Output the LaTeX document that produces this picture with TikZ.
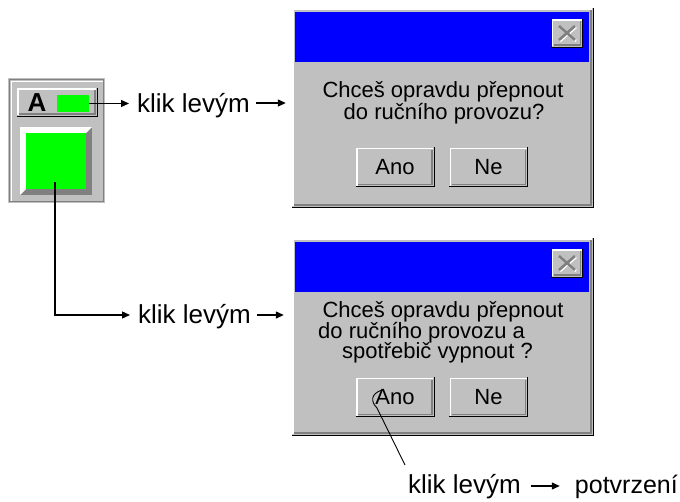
\documentclass[tikz,border=0pt]{standalone}
\usepackage{fontspec}
\setmainfont{Liberation Sans}
\usetikzlibrary{arrows.meta}

\definecolor{wgray}{HTML}{C0C0C0}
\definecolor{dgray}{HTML}{808080}
\definecolor{tblue}{HTML}{0000FF}
\definecolor{lgreen}{HTML}{00FF00}

\tikzset{
  flow/.style={-{Triangle[length=8pt,width=7pt]}, line width=1.3pt},
  lbl/.style={font=\fontsize{26}{26}\selectfont, inner sep=0pt, anchor=base west},
  msg/.style={font=\fontsize{22}{22}\selectfont, inner sep=0pt, anchor=base},
  btn/.style={fill=wgray, minimum width=78pt, minimum height=39pt, inner sep=0pt, font=\fontsize{22}{22}\selectfont},
  dialog/.style={fill=wgray, minimum width=301pt, minimum height=199pt, inner sep=0pt},
  closebtn/.style={fill=wgray, minimum width=31pt, minimum height=28pt, inner sep=0pt},
  lamp/.style={fill=lgreen, inner sep=0pt},
}

% raised 3d edge round a node
\newcommand{\bevel}[1]{%
  \draw[white, line width=1.4pt] ([shift={(1pt,1pt)}]#1.south west) |- ([shift={(-1pt,-1pt)}]#1.north east);
  \draw[dgray, line width=1.4pt] ([shift={(2.2pt,2.2pt)}]#1.south west) -| ([shift={(-2.2pt,-2.2pt)}]#1.north east);
  \draw[line width=1.2pt] (#1.south west) -| (#1.north east);
}
% greyed close cross
\newcommand{\closex}[1]{%
  \draw[white, line width=2.6pt] ([shift={(-7pt,6pt)}]#1.center) -- ([shift={(9pt,-8pt)}]#1.center)
    ([shift={(-7pt,-8pt)}]#1.center) -- ([shift={(9pt,6pt)}]#1.center);
  \draw[dgray, line width=2.6pt] ([shift={(-8pt,7pt)}]#1.center) -- ([shift={(8pt,-7pt)}]#1.center)
    ([shift={(-8pt,-7pt)}]#1.center) -- ([shift={(8pt,7pt)}]#1.center);
}

\begin{document}
\begin{tikzpicture}[x=1pt,y=-1pt]
\useasboundingbox (0,0) rectangle (680,501);

%% control panel
\fill[wgray] (8,78) rectangle (105,203);
\draw[dgray, line width=1.2pt] (9.5,79.5) rectangle (103.5,201.5);
\draw[white, line width=1pt] (11,201) |- (103,81);
\node[fill=wgray, minimum width=80pt, minimum height=28pt, inner sep=0pt] (modebtn) at (57,102) {};
\bevel{modebtn}
\node[font=\bfseries\fontsize{26}{26}\selectfont, inner sep=0pt] (mode) at (37,103) {A};
\node[lamp, minimum width=32pt, minimum height=17pt] (lamp) at (73,103.5) {};
% big push button
\fill[dgray] (20,127) rectangle (92,195);
\fill[white] (20,127) -- (92,127) -- (86,133) -- (26,133) -- (26,189) -- (20,195) -- cycle;
\node[lamp, minimum width=60pt, minimum height=56pt] (bigbtn) at (56,161) {};
\coordinate (tap) at (55,182);

%% first dialog
\node[dialog] (dlg1) at (442.5,107.5) {};
\bevel{dlg1}
\fill[tblue] (295,12) rectangle (589,62);
\node[closebtn] (close1) at (567,33) {};
\bevel{close1}
\closex{close1}
\node[msg] (q1a) at (443,97) {Chceš opravdu přepnout};
\node[msg] (q1b) at (444,119) {do ručního provozu?};
\node[btn] (ano1) at (395,167) {Ano};
\bevel{ano1}
\node[btn] (ne1) at (488.5,167) {Ne};
\bevel{ne1}

%% second dialog
\node[dialog, minimum height=197pt] (dlg2) at (442.5,336.5) {};
\bevel{dlg2}
\fill[tblue] (295,242) rectangle (589,292);
\node[closebtn] (close2) at (567,263) {};
\bevel{close2}
\closex{close2}
\node[msg] (q2a) at (443,317) {Chceš opravdu přepnout};
\node[msg, anchor=base west] (q2b) at (318,338) {do ručního provozu a};
\node[msg, anchor=base west] (q2c) at (342,358) {spotřebič vypnout ?};
\node[btn] (ano2) at (395,397) {Ano};
\bevel{ano2}
\node[btn] (ne2) at (488.5,397) {Ne};
\bevel{ne2}

%% clicks
\coordinate (row1) at (0,103);
\coordinate (row2) at (0,315);
\coordinate (row3) at (0,486);
\node[lbl] (lbl1) at (137,112) {klik levým};
\node[lbl] (lbl2) at (138,323) {klik levým};
\node[lbl] (lbl3) at (408,493) {klik levým};
\node[lbl, anchor=base east, font=\fontsize{25}{25}\selectfont] (ok) at (678,493) {potvrzení};

\draw[flow, shorten >=8pt] (lamp.east) -- (lamp.east -| lbl1.west);
\draw[flow, shorten <=6pt, shorten >=6pt] (lbl1.east |- row1) -- (dlg1.west |- row1);
\draw[flow, shorten >=8pt] (tap) |- (row2 -| lbl2.west);
\draw[flow, shorten <=6pt, shorten >=8pt] (lbl2.east |- row2) -- (dlg2.west |- row2);
\draw[flow, shorten <=10pt, shorten >=15pt] (lbl3.east |- row3) -- (ok.west |- row3);

% mouse pointer on Ano
\coordinate (press) at (382,390);
\coordinate (pend) at (405,465);
\draw[line width=0.9pt] (press) .. controls (370,394) and (371,402) .. (377,408) -- (pend);
\end{tikzpicture}
\end{document}
